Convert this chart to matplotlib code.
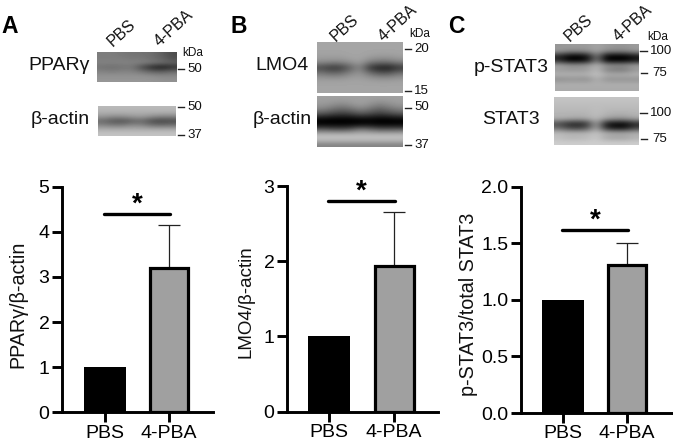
import matplotlib
matplotlib.use("Agg")
import matplotlib.pyplot as plt
import numpy as np

plt.rcParams['font.family'] = ['Liberation Sans', 'DejaVu Sans']

W, H = 673, 442

# ---- data ----
groups = ["PBS", "4-PBA"]
ppar_means = [1.0, 3.20]
ppar_upper = [None, 4.16]
lmo4_means = [1.0, 1.94]
lmo4_upper = [None, 2.66]
stat_means = [1.0, 1.31]
stat_upper = [None, 1.50]
ppar_ticks = [0, 1, 2, 3, 4, 5]
lmo4_ticks = [0, 1, 2, 3]
stat_ticks = [0.0, 0.5, 1.0, 1.5, 2.0]
stat_ticklabels = ["0.0", "0.5", "1.0", "1.5", "2.0"]

# ---- blot textures (grey levels) ----
blot_a1 = [[125,125,120,115,115,110,95,75],
           [125,125,125,120,120,110,100,80],
           [130,130,130,130,130,120,110,100],
           [115,110,115,120,75,40,25,45],
           [130,125,130,130,115,95,90,105],
           [145,145,145,145,145,140,135,135],
           [150,150,150,150,150,150,145,145]]
blot_a2 = [[185,185,185,185,185,185,185,185],
           [175,175,175,175,175,175,175,175],
           [150,140,140,150,155,140,130,130],
           [105,85,80,95,105,75,65,75],
           [135,125,125,140,135,115,110,115],
           [175,175,175,175,175,175,175,175],
           [195,195,195,195,195,195,195,195]]
blot_b1 = [[165,165,165,165,165,165,165,165,165],
           [165,165,165,165,165,165,165,165,165],
           [160,160,160,165,165,160,155,155,160],
           [145,140,140,150,160,130,120,120,135],
           [70,50,55,95,135,50,25,20,50],
           [120,105,110,135,150,115,90,90,115],
           [155,155,155,160,160,155,150,150,155],
           [165,165,165,165,165,165,165,165,165],
           [165,165,165,165,165,165,165,165,165]]
blot_b2 = [[160,160,160,160,160,160,160,160,160],
           [155,150,140,150,160,150,135,145,155],
           [135,120,105,115,135,120,100,115,130],
           [85,70,60,65,85,75,60,70,85],
           [5,0,0,0,5,5,0,0,5],
           [0,0,0,0,0,5,0,0,0],
           [90,80,75,85,120,105,85,85,90],
           [185,185,185,185,185,185,185,185,185],
           [195,195,195,195,195,195,195,195,195],
           [130,130,130,130,130,130,130,130,130]]
blot_c1 = [[150,155,155,155,165,155,150,150,155],
           [155,140,140,145,165,140,135,135,150],
           [40,5,0,20,125,5,0,0,25],
           [40,0,0,15,125,0,0,0,20],
           [165,150,150,155,180,150,145,145,160],
           [155,150,150,155,185,130,120,120,150],
           [180,180,180,180,195,175,175,175,180],
           [140,145,145,140,175,145,145,145,145],
           [175,175,175,175,175,175,175,175,175],
           [170,170,170,170,170,170,170,170,170]]
blot_c2 = [[195,195,195,195,195,195,195,195,195],
           [190,190,190,190,190,190,190,190,190],
           [185,185,185,185,190,185,185,185,185],
           [180,180,180,180,190,180,175,175,180],
           [175,170,165,170,185,160,150,150,165],
           [75,45,35,50,165,25,5,5,40],
           [110,75,65,85,170,45,20,20,65],
           [190,185,185,185,195,180,175,175,180],
           [190,180,180,185,200,165,160,160,175],
           [205,205,205,205,205,205,205,205,205]]


def ax_px(left, right, top, bottom):
    return fig.add_axes([left / W, 1 - bottom / H, (right - left) / W, (bottom - top) / H])


fig = plt.figure(figsize=(W / 100, H / 100), dpi=100, facecolor="white")

# ---- bar panels ----
panels = [
    dict(sp=62, end=213, y0=412.3, yt=186.7, t0=105, t1=169, means=ppar_means, up=ppar_upper,
         ymax=5, ticks=ppar_ticks, tl=[str(t) for t in ppar_ticks], label="PPARγ/β-actin",
         sig=4.39, star_px=205, lab_x=18, lab_y=304, lab_fs=14.2),
    dict(sp=287, end=438, y0=411.7, yt=186, t0=329, t1=394, means=lmo4_means, up=lmo4_upper,
         ymax=3, ticks=lmo4_ticks, tl=[str(t) for t in lmo4_ticks], label="LMO4/β-actin",
         sig=2.80, star_px=192, lab_x=246, lab_y=302, lab_fs=13.5),
    dict(sp=520.7, end=672, y0=413, yt=186.7, t0=563, t1=627, means=stat_means, up=stat_upper,
         ymax=2, ticks=stat_ticks, tl=stat_ticklabels, label="p-STAT3/total STAT3",
         sig=1.62, star_px=221, lab_x=468, lab_y=304, lab_fs=14.2),
]

for p in panels:
    ax = ax_px(p["sp"], p["end"], p["yt"], p["y0"])
    step = p["t1"] - p["t0"]
    ax.set_xlim((p["sp"] - p["t0"]) / step, (p["end"] - p["t0"]) / step)
    ax.set_ylim(0, p["ymax"])
    ax.patch.set_alpha(0)
    ax.bar([0], p["means"][0], width=0.66, color="black", zorder=2)
    ax.bar([1], p["means"][1], width=0.60, color="#a0a0a0", edgecolor="black", linewidth=2.3, zorder=2)
    ax.errorbar([1], [p["means"][1]], yerr=[[0], [p["up"][1] - p["means"][1]]], color="#222222",
                elinewidth=0.9, capsize=8, capthick=0.9, zorder=1, fmt="none")
    ax.plot([-0.02, 1.02], [p["sig"], p["sig"]], color="black", lw=2.4, solid_capstyle="round", clip_on=False)
    for s in ("top", "right"):
        ax.spines[s].set_visible(False)
    for s in ("left", "bottom"):
        ax.spines[s].set_linewidth(2.1)
    ax.set_xticks([0, 1], groups)
    ax.set_yticks(p["ticks"], p["tl"])
    ax.tick_params(axis="both", width=2.1, length=7.5, labelsize=14)
    ax.tick_params(axis="y", pad=1.5)
    ax.tick_params(axis="x", pad=1.5)

# ---- overlay in pixel coordinates ----
ov = fig.add_axes([0, 0, 1, 1], zorder=5)
ov.patch.set_alpha(0)
ov.axis("off")

blots = [
    (blot_a1, 97, 177, 52, 82), (blot_a2, 98, 176, 106, 136),
    (blot_b1, 317, 403, 42, 93), (blot_b2, 317, 403, 96, 147),
    (blot_c1, 555, 639, 44, 91), (blot_c2, 554, 639, 97, 145),
]
for g, l, r, t, b in blots:
    ov.imshow(np.array(g, dtype=float), cmap="gray", vmin=0, vmax=255, extent=(l, r, b, t),
              aspect="auto", interpolation="bicubic")
ov.set_xlim(0, W)
ov.set_ylim(H, 0)

for p in panels:
    ov.text(p["lab_x"], p["lab_y"], p["label"], rotation=90, ha="center", va="center",
            fontsize=p["lab_fs"], color="#111111")
    ov.text((p["t0"] + p["t1"]) / 2, p["star_px"], "*", ha="center", va="center",
            fontsize=20, fontweight="bold", color="black")

for s, x, y in [("A", 1, 33), ("B", 231, 33), ("C", 448, 33)]:
    ov.text(x, y, s, fontsize=16.5, fontweight="bold", ha="left", va="baseline", color="black")

for s, x, y in [("PPARγ", 59, 66), ("β-actin", 60, 120), ("LMO4", 282, 66), ("β-actin", 282, 119),
                ("p-STAT3", 511, 67), ("STAT3", 511, 120)]:
    ov.text(x, y, s, fontsize=14, ha="center", va="center", color="#111111")

for s, x, y in [("PBS", 113, 47), ("4-PBA", 160, 47), ("PBS", 336, 41.5), ("4-PBA", 384, 41.5),
                ("PBS", 570, 41.5), ("4-PBA", 619, 41.5)]:
    ov.text(x, y, s, fontsize=11.5, rotation=42, rotation_mode="anchor", ha="left", va="baseline",
            color="#111111")

for x, y in [(182, 53), (409, 34), (647, 37)]:
    ov.text(x, y, "kDa", fontsize=8.5, ha="left", va="center", color="#111111")

marks = [("50", 178, 184, 187, 69), ("50", 178, 184, 187, 107), ("37", 178, 184, 187, 135),
         ("20", 405, 411, 414, 49), ("15", 405, 411, 414, 91), ("50", 405, 411, 414, 108),
         ("37", 405, 411, 414, 145), ("100", 640, 647, 650, 51), ("75", 641, 647, 652, 73),
         ("100", 640, 647, 650, 113), ("75", 641, 647, 652, 139)]
for s, x0, x1, xt, y in marks:
    ov.plot([x0, x1], [y, y], color="#222222", lw=1.0)
    ov.text(xt, y - 0.5, s, fontsize=9.5, ha="left", va="center", color="#111111")

fig.savefig("out.png", dpi=100, facecolor="white")
